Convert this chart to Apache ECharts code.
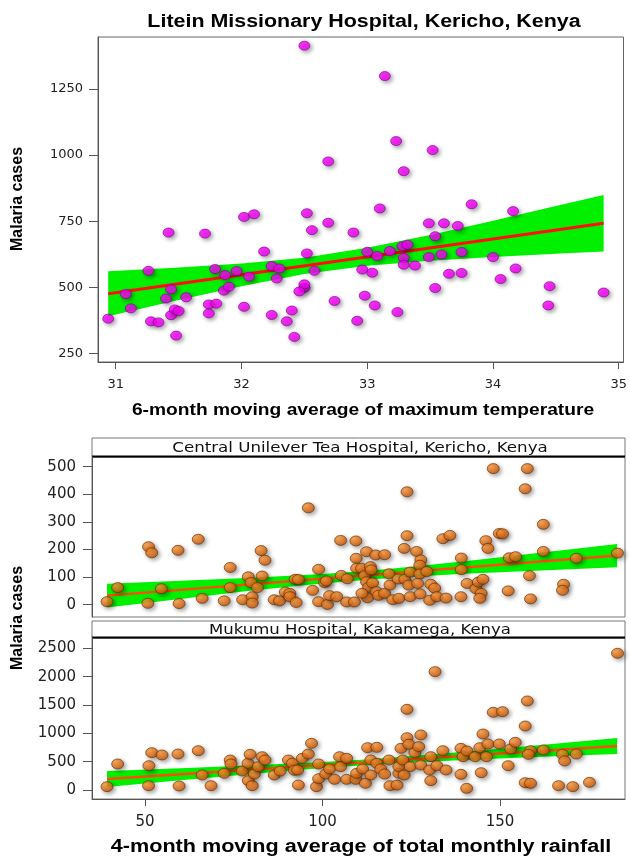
<!DOCTYPE html>
<html><head><meta charset="utf-8">
<script src="https://cdn.jsdelivr.net/npm/echarts@6/dist/echarts.min.js"></script>
<style>html,body{margin:0;padding:0;background:#fff}#c{width:630px;height:856px}</style>
</head><body><div id="c"></div>
<script>
// ---------- Top chart: Litein Missionary Hospital ----------
const tempX = [32.50,33.14,33.23,33.52,32.69,33.29,33.83,33.10,34.16,32.02,32.10,32.52,32.69,33.49,33.61,33.72,32.56,31.42,31.71,32.89,33.54,33.28,33.32,32.18,32.52,33.00,33.18,33.08,33.29,33.49,33.59,33.75,34.00,31.26,31.79,31.96,31.87,32.06,32.24,32.30,32.28,32.58,32.96,33.04,33.29,33.38,33.65,33.75,34.18,34.06,34.45,34.88,34.44,30.94,31.08,31.12,31.44,31.40,31.56,31.86,31.90,32.50,32.50,32.46,33.54,31.28,31.34,31.44,31.47,31.50,31.48,31.74,31.80,31.74,32.02,32.24,32.36,32.40,32.42,32.74,32.98,33.06,32.92,33.24];
const tempCases = [1414,1299,1053,1019,976,939,814,798,788,766,776,780,744,742,742,732,716,707,703,707,693,655,661,635,628,634,637,618,611,614,624,633,614,562,569,561,546,540,580,571,533,562,567,555,585,582,551,554,571,531,504,480,431,381,474,420,492,457,462,487,502,498,511,484,497,371,367,394,416,410,317,435,438,401,426,395,371,412,312,448,468,431,373,406];
const tempFitX = [30.94, 34.88];
const tempFitY = [475, 742];
const tempBandX  = [30.94, 31.5, 32, 32.5, 33, 33.5, 34, 34.5, 34.88];
const tempBandLo = [390, 452, 504, 550, 581, 600, 614, 627, 635];
const tempBandHi = [560, 575, 590, 612, 649, 698, 752, 807, 849];
const tempXTicks = [31, 32, 33, 34, 35];
const tempYTicks = [250, 500, 750, 1000, 1250];

// ---------- Panel 1: Central Unilever Tea Hospital ----------
const rainCU = [39.3,42.3,51.0,51.9,50.8,54.6,59.3,59.6,65.0,66.1,72.3,74.0,74.0,77.5,79.1,79.9,80.2,80.2,81.7,82.7,83.8,83.0,86.4,87.9,92.3,93.2,89.5,90.8,90.8,92.6,96.0,97.2,98.9,100.6,101.1,98.9,101.4,102.0,104.0,105.1,105.3,107.0,106.8,109.0,109.4,109.5,109.6,111.0,111.9,112.4,113.0,112.7,111.1,112.4,113.5,113.7,114.1,115.0,115.2,115.8,117.5,117.5,118.7,119.0,119.8,121.5,121.3,123.0,123.8,123.8,123.2,124.3,124.7,124.7,126.5,127.7,127.4,127.4,126.8,127.5,129.4,130.2,130.5,131.6,132.2,133.9,135.9,134.8,139.1,139.1,139.0,140.7,143.2,143.9,145.2,146.0,146.6,144.7,144.3,148.1,149.8,150.7,152.3,152.6,154.4,157.7,157.1,158.3,158.6,162.2,162.2,167.9,167.6,171.5,183.1];
const casesCU = [11,62,210,188,5,58,197,4,237,23,14,135,62,18,101,80,29,6,62,196,161,104,18,14,92,91,46,41,29,8,351,52,128,80,86,11,1,33,29,233,106,94,10,10,231,168,132,132,105,83,63,25,41,192,138,126,79,180,47,34,181,41,112,71,18,23,93,204,409,250,92,71,118,29,193,162,143,111,77,39,120,16,74,60,29,239,251,24,169,127,29,77,58,82,92,232,204,41,23,493,258,257,50,170,174,493,420,105,21,291,193,74,52,168,187];
const cuFitX = [39.3, 183];
const cuFitY = [33, 178];
const cuBandX  = [39.3, 60, 80, 100, 111, 120, 140, 160, 183];
const cuBandLo = [-10, 21, 51, 77, 89, 98, 112, 123, 136];
const cuBandHi = [76, 87, 98, 111, 121, 131, 157, 186, 220];
const cuYTicks = [0, 100, 200, 300, 400, 500];

// ---------- Panel 2: Mukumu Hospital ----------
const rainMK = [39.3,42.3,51.0,51.1,51.9,54.8,59.3,59.6,65.0,66.1,68.6,72.3,74.0,74.2,77.4,79.0,79.6,79.1,80.2,80.8,81.9,83.0,83.8,86.4,88.1,90.4,91.5,92.1,93.2,93.0,94.3,96.0,96.9,98.3,98.9,98.9,100.9,102.0,103.4,104.8,105.1,106.8,106.8,109.4,109.6,111.3,112.1,112.7,113.6,113.6,115.3,115.3,116.4,117.5,118.7,119.0,121.0,121.5,121.5,122.1,122.6,123.0,123.8,123.8,124.3,124.7,126.0,127.1,127.7,127.7,130.5,130.2,130.5,131.7,132.2,133.9,134.8,139.0,139.0,139.6,140.6,140.7,143.0,144.3,145.2,144.7,146.2,146.6,148.1,149.8,150.7,152.3,153.0,154.3,157.1,157.7,157.1,158.6,158.6,158.0,162.2,166.5,167.6,168.2,170.5,171.5,175.2,183.1];
const casesMK = [59,459,76,429,659,618,635,71,694,265,76,294,529,459,335,471,629,165,76,282,412,588,529,265,335,529,471,347,88,353,559,635,824,59,200,459,282,371,188,588,412,188,559,188,294,371,118,747,529,265,753,471,371,282,529,76,88,294,412,735,529,265,1423,923,806,412,659,765,971,441,588,353,165,2088,429,694,353,735,276,588,29,688,588,747,988,306,588,812,1371,812,1382,429,723,841,1129,1571,129,118,694,629,706,76,629,512,59,635,135,2412];
const mkFitX = [39.3, 183];
const mkFitY = [194, 776];
const mkBandX  = [39.3, 60, 80, 100, 111, 120, 140, 160, 183];
const mkBandLo = [53, 172, 283, 386, 434, 468, 529, 580, 634];
const mkBandHi = [335, 384, 435, 494, 534, 574, 675, 786, 918];
const mkYTicks = [0, 500, 1000, 1500, 2000, 2500];
const rainXTicks = [50, 100, 150];

// ---------- helpers ----------
function zip(a, b) { return a.map((v, i) => [v, b[i]]); }
function bandSeries(xi, yi, bx, lo, hi, color) {
  return {
    type: 'custom', xAxisIndex: xi, yAxisIndex: yi, z: 1, silent: true,
    data: bx.map((x, i) => [x, lo[i], hi[i]]),
    encode: { x: 0, y: [1, 2] },
    renderItem: function (params, api) {
      if (params.dataIndex !== 0) return null;
      const pts = [];
      for (let i = 0; i < bx.length; i++) pts.push(api.coord([bx[i], hi[i]]));
      for (let i = bx.length - 1; i >= 0; i--) pts.push(api.coord([bx[i], lo[i]]));
      return { type: 'polygon', shape: { points: pts }, style: { fill: color } };
    }
  };
}
const plain = v => String(v);
const tickLabelColor = '#222';
const axisColor = '#555';

const orangeDot = {
  color: {
    type: 'radial', x: 0.38, y: 0.35, r: 0.7,
    colorStops: [{ offset: 0, color: '#FFA040' }, { offset: 0.55, color: '#EE7418' }, { offset: 1, color: '#B8520A' }]
  },
  borderColor: '#5E2D00', borderWidth: 0.8,
  shadowColor: 'rgba(0,0,0,0.45)', shadowBlur: 4, shadowOffsetX: 2, shadowOffsetY: 2
};

const chart = echarts.init(document.getElementById('c'), null, { renderer: 'canvas' });
chart.setOption({
  animation: false,
  backgroundColor: '#fff',
  grid: [
    { left: 98, top: 37, width: 526, height: 325, show: true, borderColor: '#666', borderWidth: 1, backgroundColor: 'transparent' },
    { left: 92, top: 457, width: 533, height: 160, show: true, borderColor: '#777', borderWidth: 1, backgroundColor: 'transparent' },
    { left: 92, top: 638, width: 533, height: 161, show: true, borderColor: '#777', borderWidth: 1, backgroundColor: 'transparent' }
  ],
  xAxis: [
    { type: 'value', gridIndex: 0, min: 30.859, max: 35.038,
      axisLine: { show: true, onZero: false, lineStyle: { color: axisColor } },
      axisTick: { show: true, length: 7, customValues: tempXTicks, lineStyle: { color: axisColor } },
      axisLabel: { customValues: tempXTicks, formatter: plain, margin: 16, color: tickLabelColor, fontFamily: 'DejaVu Sans', fontSize: 13 },
      splitLine: { show: false } },
    { type: 'value', gridIndex: 1, min: 35.07, max: 185.21,
      axisLine: { show: false }, axisTick: { show: false }, axisLabel: { show: false }, splitLine: { show: false } },
    { type: 'value', gridIndex: 2, min: 35.07, max: 185.21,
      axisLine: { show: true, onZero: false, lineStyle: { color: axisColor } },
      axisTick: { show: true, length: 7, customValues: rainXTicks, lineStyle: { color: axisColor } },
      axisLabel: { customValues: rainXTicks, formatter: plain, margin: 16, color: tickLabelColor, fontFamily: 'DejaVu Sans', fontSize: 15 },
      splitLine: { show: false } }
  ],
  yAxis: [
    { type: 'value', gridIndex: 0, min: 217.1, max: 1446.8,
      axisLine: { show: true, onZero: false, lineStyle: { color: axisColor } },
      axisTick: { show: true, length: 9, customValues: tempYTicks, lineStyle: { color: axisColor } },
      axisLabel: { customValues: tempYTicks, formatter: plain, margin: 15, color: tickLabelColor, fontFamily: 'DejaVu Sans', fontSize: 13 },
      splitLine: { show: false } },
    { type: 'value', gridIndex: 1, min: -44.6, max: 535.1,
      axisLine: { show: true, onZero: false, lineStyle: { color: axisColor } },
      axisTick: { show: true, length: 9, customValues: cuYTicks, lineStyle: { color: axisColor } },
      axisLabel: { customValues: cuYTicks, formatter: plain, margin: 16, color: tickLabelColor, fontFamily: 'DejaVu Sans', fontSize: 15 },
      splitLine: { show: false } },
    { type: 'value', gridIndex: 2, min: -158.8, max: 2681.7,
      axisLine: { show: true, onZero: false, lineStyle: { color: axisColor } },
      axisTick: { show: true, length: 9, customValues: mkYTicks, lineStyle: { color: axisColor } },
      axisLabel: { customValues: mkYTicks, formatter: plain, margin: 16, color: tickLabelColor, fontFamily: 'DejaVu Sans', fontSize: 15 },
      splitLine: { show: false } }
  ],
  series: [
    bandSeries(0, 0, tempBandX, tempBandLo, tempBandHi, '#00F000'),
    { type: 'line', xAxisIndex: 0, yAxisIndex: 0, z: 2, data: zip(tempFitX, tempFitY), symbol: 'none',
      lineStyle: { color: '#FF1010', width: 3 } },
    { type: 'scatter', xAxisIndex: 0, yAxisIndex: 0, z: 3, data: zip(tempX, tempCases), symbol: 'circle', symbolSize: [11, 9],
      itemStyle: { color: '#FF00FF', borderColor: '#7A0090', borderWidth: 0.8,
        shadowColor: 'rgba(0,0,0,0.45)', shadowBlur: 4, shadowOffsetX: 2, shadowOffsetY: 2 } },

    bandSeries(1, 1, cuBandX, cuBandLo, cuBandHi, '#00F000'),
    { type: 'line', xAxisIndex: 1, yAxisIndex: 1, z: 2, data: zip(cuFitX, cuFitY), symbol: 'none',
      lineStyle: { color: '#FF4A10', width: 2.4 } },
    { type: 'scatter', xAxisIndex: 1, yAxisIndex: 1, z: 3, data: zip(rainCU, casesCU), symbol: 'circle', symbolSize: [12, 10],
      itemStyle: orangeDot },

    bandSeries(2, 2, mkBandX, mkBandLo, mkBandHi, '#00F000'),
    { type: 'line', xAxisIndex: 2, yAxisIndex: 2, z: 2, data: zip(mkFitX, mkFitY), symbol: 'none',
      lineStyle: { color: '#FF4A10', width: 2.4 } },
    { type: 'scatter', xAxisIndex: 2, yAxisIndex: 2, z: 3, data: zip(rainMK, casesMK), symbol: 'circle', symbolSize: [12, 10],
      itemStyle: orangeDot }
  ],
  graphic: [
    { type: 'text', x: 364, y: 22, scaleX: 1.19, style: { text: 'Litein Missionary Hospital, Kericho, Kenya', font: 'bold 18px "Liberation Sans"', fill: '#000', align: 'center', verticalAlign: 'middle' } },
    { type: 'text', x: 363, y: 410, scaleX: 1.13, style: { text: '6-month moving average of maximum temperature', font: 'bold 17px "Liberation Sans"', fill: '#000', align: 'center', verticalAlign: 'middle' } },
    { type: 'text', x: 18, y: 199, rotation: Math.PI / 2, style: { text: 'Malaria cases', font: 'bold 16px "Liberation Sans"', fill: '#000', align: 'center', verticalAlign: 'middle' } },
    { type: 'text', x: 18, y: 618, rotation: Math.PI / 2, style: { text: 'Malaria cases', font: 'bold 16px "Liberation Sans"', fill: '#000', align: 'center', verticalAlign: 'middle' } },
    { type: 'text', x: 361, y: 847, scaleX: 1.2, style: { text: '4-month moving average of total monthly rainfall', font: 'bold 18px "Liberation Sans"', fill: '#000', align: 'center', verticalAlign: 'middle' } },
    // strips
    { type: 'rect', shape: { x: 92, y: 438, width: 533, height: 19 }, style: { fill: '#fff', stroke: '#777', lineWidth: 1 } },
    { type: 'line', shape: { x1: 92, y1: 456.5, x2: 625, y2: 456.5 }, style: { stroke: '#000', lineWidth: 2 } },
    { type: 'text', x: 360, y: 448, scaleX: 1.19, style: { text: 'Central Unilever Tea Hospital, Kericho, Kenya', font: '14px "DejaVu Sans"', fill: '#111', align: 'center', verticalAlign: 'middle' } },
    { type: 'rect', shape: { x: 92, y: 621, width: 533, height: 17 }, style: { fill: '#fff', stroke: '#777', lineWidth: 1 } },
    { type: 'line', shape: { x1: 92, y1: 637.5, x2: 625, y2: 637.5 }, style: { stroke: '#000', lineWidth: 2 } },
    { type: 'text', x: 360, y: 630, scaleX: 1.18, style: { text: 'Mukumu Hospital, Kakamega, Kenya', font: '14px "DejaVu Sans"', fill: '#111', align: 'center', verticalAlign: 'middle' } }
  ]
});
</script>
</body></html>
